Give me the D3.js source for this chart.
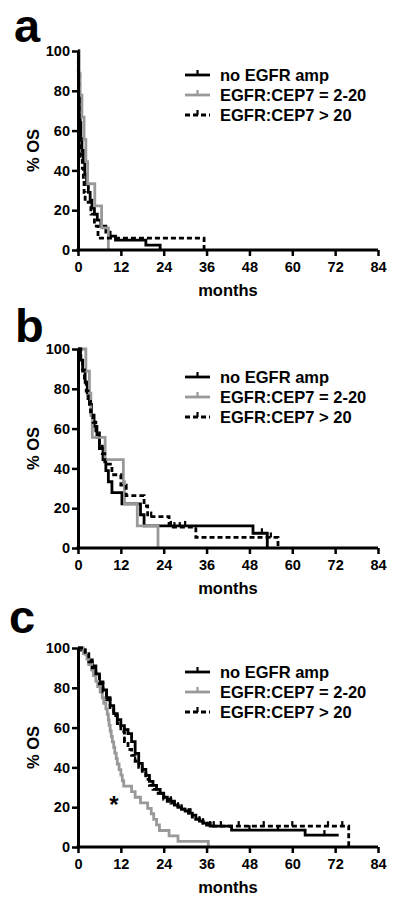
<!DOCTYPE html>
<html>
<head>
<meta charset="utf-8">
<script src="https://cdn.jsdelivr.net/npm/d3@7"></script>
<style>
  body { margin: 0; background: #fff; }
  text { font-family: "Liberation Sans", Arial, sans-serif; font-weight: bold; }
</style>
</head>
<body>
<svg id="chart" width="400" height="899"></svg>
<script>
// legend labels and ticks
const groups = ["no EGFR amp", "EGFR:CEP7 = 2-20", "EGFR:CEP7 > 20"];
const xTicks = [0, 12, 24, 36, 48, 60, 72, 84];
const yTicks = [0, 20, 40, 60, 80, 100];

// survival steps [months, % OS]
const aNoAmp = [[0,100],[0.2,88],[0.4,76],[0.6,64],[0.8,56],[1.1,50],[1.5,44],[1.9,38],[2.4,33],[2.9,29],[3.4,25],[3.9,21],[4.6,18],[5.4,15],[6.4,12],[7.8,9],[9,7],[10.5,5],[19,2.5],[23,0]];
const aMid   = [[0,100],[0.3,88.9],[0.6,77.8],[1.1,66.7],[1.7,55.6],[2.2,44.4],[2.7,33.3],[4.7,22.2],[6.6,11.1],[8.5,0]];
const aHigh  = [[0,100],[0.1,88],[0.2,76],[0.3,65],[0.4,53],[0.8,47],[1.2,41],[1.5,35],[1.7,29],[2,24],[3.6,18],[4.6,12],[5.6,6],[35.3,0]];

const bNoAmp = [[0,100],[0.7,94.4],[1.3,88.9],[2,83.3],[2.6,77.8],[3.2,72.2],[3.8,66.7],[4.5,61.1],[5.3,55.6],[6,50],[7,44.4],[7.8,38.9],[8.5,33.3],[9.5,27.8],[12.3,22.2],[17.5,16.7],[18.5,11.1],[49,7.4],[53,0]];
const bMid   = [[0,100],[2.2,88.9],[3.2,77.8],[3.6,66.7],[4,55.6],[7.6,44.4],[12.7,33.3],[13,22.2],[16.6,11.1],[22.4,0]];
const bHigh  = [[0,100],[0.8,94.7],[1.3,89.5],[1.8,84.2],[2.3,78.9],[2.8,73.7],[3.5,68.4],[4.2,63.2],[5,57.9],[6,52.6],[6.8,47.4],[7.5,42.1],[9.5,36.8],[12,31.6],[13.5,26.3],[18.5,21.1],[19.5,15.8],[25.5,10.5],[33,5.3],[56,0]];

const cNoAmp = [[0,100],[1,99],[2,97],[3,94],[4,91],[5,87],[6,83],[7,79],[8,75],[9,71],[10,67],[11,64],[12,61],[13,59],[14,57],[15,53],[16,47],[17,42],[18,39],[19,36],[20,33],[21,31],[22,29],[23,27],[24,25],[25,24],[26,23],[27,21],[28,20],[29,19],[30,18],[31,17],[32,16],[33,14],[34,13],[35,12],[36,11],[37,10.5],[43,8.5],[63.6,6],[73,6]];
const cMid   = [[0,100],[1.5,97.2],[2.5,94.4],[3,91.7],[3.8,88.9],[4.3,86.1],[5,83.3],[5.5,80.6],[6.2,77.8],[6.8,75],[7.2,72.2],[7.8,69.4],[8.2,66.7],[8.5,63.9],[8.7,61.1],[9,58.3],[9.3,55.6],[9.6,52.8],[10,50],[10.3,47.2],[10.7,44.4],[11,41.7],[11.5,38.9],[12,36.1],[12.4,33.3],[12.8,30.6],[15,27.8],[16,25],[17.5,22.2],[19.5,19.4],[20.5,16.7],[21.2,13.9],[22,11.1],[22.8,8.3],[25.5,5.6],[28,2.8],[36.5,0]];
const cHigh  = [[0,100],[1,99],[2,97],[3,93],[4,90],[5,86],[6,82],[7,78],[8,74],[9,70],[10,66],[11,62],[12,58],[13,53],[14,49],[15,46],[16,43],[17,40],[18,37],[19,34],[20,31],[21,29],[22,27],[23,26],[24,24],[25,23],[26,22],[27,21],[28,20],[29,19],[31,17],[32,15],[33,14],[34,13],[35,12],[37,10.5],[75.8,0]];

// censored times
const bNoAmpCens = [26, 30, 51.5];
const bHighCens  = [20.5, 27, 28.5, 54];
const cNoAmpCens = [14, 18, 22, 26, 28, 31, 34, 37, 40, 48, 56, 69];
const cHighCens  = [13, 16, 24, 27, 29, 31.5, 35, 38, 45, 52, 60, 70, 74];

const styles = [
  { color: "#000", dash: null },
  { color: "#999", dash: null },
  { color: "#000", dash: "5,3" }
];

const panels = [
  { letter: "a", lx: 14, ly: 42, top: 51, legTop: 75, series: [aNoAmp, aMid, aHigh], cens: [[], [], []] },
  { letter: "b", lx: 15, ly: 342, top: 349, legTop: 377, series: [bNoAmp, bMid, bHigh], cens: [bNoAmpCens, [], bHighCens] },
  { letter: "c", lx: 9, ly: 633, top: 648, legTop: 672, series: [cNoAmp, cMid, cHigh], cens: [cNoAmpCens, [], cHighCens], star: true }
];

const svg = d3.select("#chart");
const x = d3.scaleLinear().domain([0, 84]).range([78, 378]);
const plotH = 199;

function survAt(s, t) {
  let v = 100;
  s.forEach(d => { if (d[0] <= t) v = d[1]; });
  return v;
}

panels.forEach(p => {
  const y = d3.scaleLinear().domain([0, 100]).range([p.top + plotH, p.top]);
  const g = svg.append("g");

  // panel letter
  g.append("text")
    .attr("x", p.lx).attr("y", p.ly)
    .attr("font-size", 47)
    .text(p.letter);

  // curves
  const line = d3.line()
    .x(d => x(d[0]))
    .y(d => y(d[1]))
    .curve(d3.curveStepAfter);

  p.series.forEach((s, i) => {
    g.append("path")
      .attr("d", line(s))
      .attr("fill", "none")
      .attr("stroke", styles[i].color)
      .attr("stroke-width", 2.8)
      .attr("stroke-dasharray", styles[i].dash);
    p.cens[i].forEach(t => {
      const v = survAt(s, t);
      g.append("line")
        .attr("x1", x(t)).attr("x2", x(t))
        .attr("y1", y(v) - 5).attr("y2", y(v))
        .attr("stroke", styles[i].color)
        .attr("stroke-width", 2.2);
    });
  });

  // axes
  const xa = g.append("g")
    .attr("transform", `translate(0,${p.top + plotH})`)
    .call(d3.axisBottom(x).tickValues(xTicks).tickSize(6).tickPadding(6).tickSizeOuter(0));
  const ya = g.append("g")
    .attr("transform", "translate(78,0)")
    .call(d3.axisLeft(y).tickValues(yTicks).tickSize(6).tickPadding(2).tickSizeOuter(0));
  [xa, ya].forEach(a => {
    a.attr("font-family", null).attr("font-size", null);
    a.select(".domain").attr("stroke-width", 3);
    a.selectAll(".tick line").attr("stroke-width", 2.5);
    a.selectAll(".tick text").attr("font-size", 14.5).attr("fill", "#000");
  });
  // extend x axis line over the y axis corner
  xa.select(".domain").attr("d", `M76.5,0H378`);

  // axis titles
  g.append("text")
    .attr("x", 228).attr("y", p.top + plotH + 46)
    .attr("text-anchor", "middle")
    .attr("font-size", 16.5)
    .text("months");
  g.append("text")
    .attr("transform", `translate(39,${p.top + plotH / 2}) rotate(-90)`)
    .attr("text-anchor", "middle")
    .attr("font-size", 16.5)
    .text("% OS");

  // legend
  groups.forEach((name, i) => {
    const ly = p.legTop + i * 20;
    g.append("line")
      .attr("x1", 185).attr("x2", 210)
      .attr("y1", ly).attr("y2", ly)
      .attr("stroke", styles[i].color)
      .attr("stroke-width", 2.8)
      .attr("stroke-dasharray", styles[i].dash);
    g.append("line")
      .attr("x1", 197.5).attr("x2", 197.5)
      .attr("y1", ly - 5).attr("y2", ly)
      .attr("stroke", styles[i].color)
      .attr("stroke-width", 2.2);
    g.append("text")
      .attr("x", 220).attr("y", ly + 6)
      .attr("font-size", 16.5)
      .text(name);
  });

  if (p.star) {
    g.append("text")
      .attr("x", 114).attr("y", 813)
      .attr("text-anchor", "middle")
      .attr("font-size", 24)
      .text("*");
  }
});
</script>
</body>
</html>
